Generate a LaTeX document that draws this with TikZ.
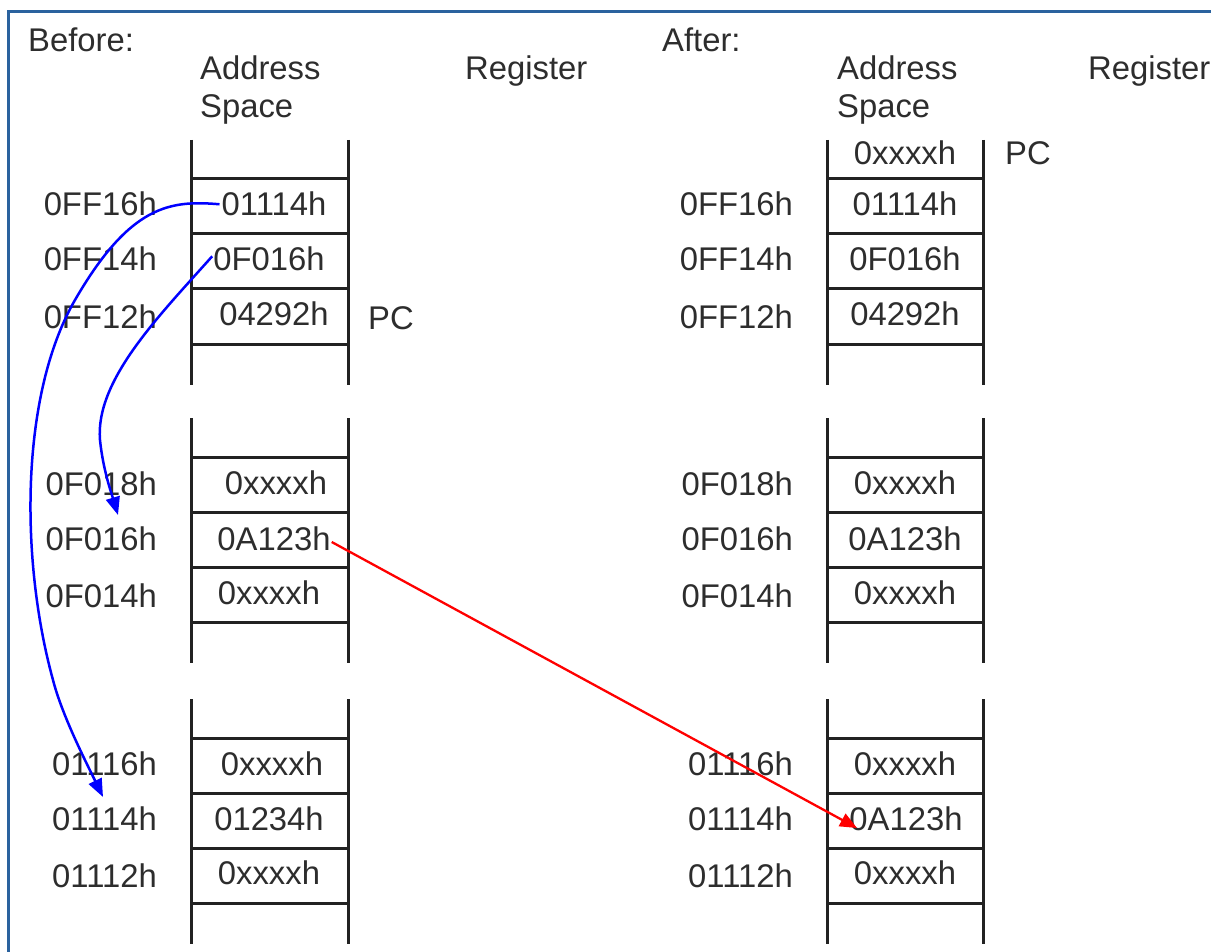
\documentclass[tikz,border=0pt]{standalone}
\usepackage{fontspec}
\setmainfont{Liberation Sans}
\usetikzlibrary{arrows.meta}
\definecolor{frameblue}{RGB}{42,98,158}
\definecolor{ink}{RGB}{45,45,45}
\definecolor{rail}{RGB}{34,34,34}
% one memory stack: left x, right x, top y (rails 245 long, four cell lines)
\newcommand\memstack[3]{%
  \draw[rails] (#1,#3) -- (#1,#3+245) (#2,#3) -- (#2,#3+245);
  \foreach \d in {39,94,149,204} \draw[rails] (#1,#3+\d) -- (#2,#3+\d);
}
\begin{document}
\begin{tikzpicture}[x=1pt,y=-1pt,
  txt/.style={font=\fontsize{32.8}{38}\selectfont, text=ink, inner sep=0pt},
  val/.style={txt, anchor=base},
  addr/.style={txt, anchor=base east},
  head/.style={txt, anchor=base west},
  rails/.style={draw=rail, line width=3pt},
  ptr/.style={draw=blue, line width=2.5pt, -{Triangle[length=18pt,width=14pt]}},
  mov/.style={draw=red, line width=2.3pt, -{Triangle[length=17pt,width=14pt]}}]
\useasboundingbox (0,0) rectangle (1211,952);
\fill[white] (0,0) rectangle (1211,952);
\draw[frameblue, line width=3.5pt] (8.5,11.7) rectangle (1260,1000);

% ---------- before ----------
\node[head] (hb)  at (28,52)  {Before:};
\node[head] (hba) at (200,80) {Address};
\node[head] (hbs) at (200,118) {Space};
\node[head] (hbr) at (465,80) {Register};

\memstack{191}{348}{140}
\memstack{191}{348}{418}
\memstack{191}{348}{699}

\node[addr] (lb1) at (157,216) {0FF16h};
\node[addr] (lb2) at (157,271) {0FF14h};
\node[addr] (lb3) at (157,328) {0FF12h};
\node[addr] (lb4) at (157,495) {0F018h};
\node[addr] (lb5) at (157,550) {0F016h};
\node[addr] (lb6) at (157,607) {0F014h};
\node[addr] (lb7) at (157,775) {01116h};
\node[addr] (lb8) at (157,830) {01114h};
\node[addr] (lb9) at (157,887) {01112h};

\node[val] (bT1) at (274,216) {01114h};
\node[val] (bT2) at (269,271) {0F016h};
\node[val] (bT3) at (274,326) {04292h};
\node[val] (bM1) at (276,494) {0xxxxh};
\node[val] (bM2) at (274,550) {0A123h};
\node[val] (bM3) at (269,604) {0xxxxh};
\node[val] (bB1) at (272,775) {0xxxxh};
\node[val] (bB2) at (269,830) {01234h};
\node[val] (bB3) at (269,884) {0xxxxh};
\node[head] (pcb) at (368,330) {PC};

% ---------- after ----------
\node[head] (ha)  at (662,52)  {After:};
\node[head] (haa) at (837,80)  {Address};
\node[head] (has) at (837,118) {Space};
\node[head] (har) at (1088,80) {Register};

\memstack{827}{983}{140}
\memstack{827}{983}{418}
\memstack{827}{983}{699}

\node[addr] (la1) at (793,216) {0FF16h};
\node[addr] (la2) at (793,271) {0FF14h};
\node[addr] (la3) at (793,328) {0FF12h};
\node[addr] (la4) at (793,495) {0F018h};
\node[addr] (la5) at (793,550) {0F016h};
\node[addr] (la6) at (793,607) {0F014h};
\node[addr] (la7) at (793,775) {01116h};
\node[addr] (la8) at (793,830) {01114h};
\node[addr] (la9) at (793,887) {01112h};

\node[val] (aT0) at (905,165) {0xxxxh};
\node[val] (aT1) at (905,216) {01114h};
\node[val] (aT2) at (905,271) {0F016h};
\node[val] (aT3) at (905,326) {04292h};
\node[val] (aM1) at (905,494) {0xxxxh};
\node[val] (aM2) at (905,550) {0A123h};
\node[val] (aM3) at (905,604) {0xxxxh};
\node[val] (aB1) at (905,775) {0xxxxh};
\node[val] (aB2) at (906,830) {0A123h};
\node[val] (aB3) at (905,884) {0xxxxh};
\node[head] (pca) at (1005,165) {PC};

% ---------- pointers ----------
\coordinate (tipB) at (103,797);
\coordinate (tipM) at (118,515);
\coordinate (tipR) at (857,828);

\draw[ptr] ([xshift=-2pt]bT1.west)
  .. controls (170,200) and (130,205) .. (75,300)
  .. controls (20,395) and (20,560) .. (53,680)
  .. controls (62,715) and (85,760) .. (tipB);
\draw[ptr] ([yshift=3pt,xshift=-1pt]bT2.west)
  .. controls (160,315) and (95,380) .. (100,440)
  .. controls (103,470) and (112,495) .. (tipM);
\draw[mov] ([yshift=8pt,xshift=1pt]bM2.base east) -- (tipR);
\end{tikzpicture}
\end{document}
